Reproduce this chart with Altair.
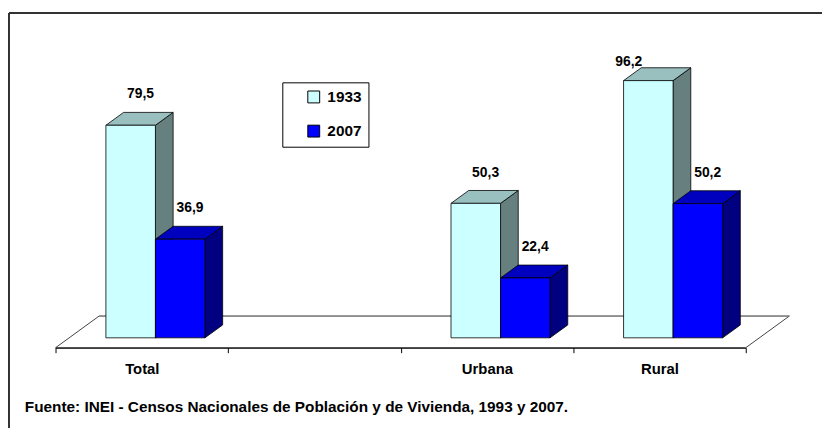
import altair as alt
import pandas as pd

# ---- data ----
categories = ["Total", "", "Urbana", "Rural"]
years = ["1933", "2007"]
values_1933 = [79.5, None, 50.3, 96.2]
values_2007 = [36.9, None, 22.4, 50.2]
source_note = "Fuente: INEI - Censos Nacionales de Población y de Vivienda, 1993 y 2007."

# ---- styles / geometry (not data) ----
FONT = "Liberation Sans, Arial, sans-serif"
front_colors = ["#CCFFFF", "#0000FF"]
top_colors = ["#99BFBF", "#0000BF"]
side_colors = ["#668080", "#000080"]
BAR_W = 0.287             # bar width in category-band units
Z0, Z1 = 0.3125, 0.71875  # bar depth range (0 = floor front, 1 = floor back)
DX = 0.2525               # horizontal shift per unit depth (band units)
DY = 11.85                # vertical shift per unit depth (value units)
LABEL_RISE = 11.5         # label centre above the bar top (value units)
LABEL_CEIL = 107.0        # labels are kept inside the chart area
LABEL_SHIFT = 0.057       # label shift to the right (band units)
CEIL_SHIFT = -0.17        # labels pushed down by the ceiling also move left
N = len(categories)
PLOT_W, PLOT_H = 821, 419
X_RANGE = [47, 744]
Y_RANGE = [338, 68]

xs = alt.Scale(domain=[0, N], range=X_RANGE, nice=False, zero=False)
ys = alt.Scale(domain=[0, 100], range=Y_RANGE, nice=False, zero=False)

front_rows, top_rows, side_rows, label_rows = [], [], [], []
for i, cat in enumerate(categories):
    for j, (yr, vals) in enumerate(zip(years, [values_1933, values_2007])):
        v = vals[i]
        if v is None:
            continue
        bar = f"{cat}-{yr}"
        u0 = i + 0.5 - BAR_W + j * BAR_W
        u1 = u0 + BAR_W
        front_rows.append(dict(bar=bar, year=yr, x=u0 + Z0 * DX, x2=u1 + Z0 * DX,
                               y=Z0 * DY, y2=v + Z0 * DY))
        for z in (Z0, Z1):
            top_rows.append(dict(bar=bar, year=yr, y=v + z * DY, x=u0 + z * DX, x2=u1 + z * DX))
            side_rows.append(dict(bar=bar, year=yr, x=u1 + z * DX, y=z * DY, y2=v + z * DY))
        ly = v + Z0 * DY + LABEL_RISE
        lx = (u0 + u1) / 2 + Z0 * DX + LABEL_SHIFT
        if ly > LABEL_CEIL:
            ly, lx = LABEL_CEIL, lx + CEIL_SHIFT
        label_rows.append(dict(bar=bar, x=lx, y=ly, label=f"{v:.1f}".replace(".", ",")))

front_df = pd.DataFrame(front_rows)
top_df = pd.DataFrame(top_rows)
side_df = pd.DataFrame(side_rows)
label_df = pd.DataFrame(label_rows)
floor_df = pd.DataFrame({"y": [0, DY], "x": [0, DX], "x2": [N, N + DX]})
back_df = floor_df.iloc[[1]]

label_list = "[" + ",".join("'" + c + "'" for c in categories + [""]) + "]"
band_px = (X_RANGE[1] - X_RANGE[0]) / N

AX = alt.Axis(values=list(range(N + 1)), labelExpr=label_list + "[datum.value]",
              labelOffset=band_px / 2, labelFlush=False, labelOverlap=False,
              labelBound=False, grid=False, offset=Y_RANGE[0] - PLOT_H,
              tickSize=5, tickColor="black", domainColor="black", domainWidth=1,
              labelFont=FONT, labelFontSize=15, labelFontWeight="bold",
              labelColor="black", labelPadding=9, labelBaseline="top", zindex=1,
              title=None)


def X(field="x:Q", **kw):
    return alt.X(field, scale=xs, axis=AX, title=None, **kw)


def Y(field="y:Q", **kw):
    return alt.Y(field, scale=ys, axis=None, title=None, **kw)


# chart frame: top and left edges only (the right/bottom ones lie off the page)
frame_top = alt.Chart().mark_rule(color="#333", strokeWidth=2).encode(
    x=alt.value(0), x2=alt.value(PLOT_W), y=alt.value(0))
frame_left = alt.Chart().mark_rule(color="#333", strokeWidth=2).encode(
    x=alt.value(0), y=alt.value(0), y2=alt.value(PLOT_H))

floor = alt.Chart(floor_df).mark_area(orient="horizontal", fill="white", stroke="#444",
                                      strokeWidth=1).encode(
    y=Y(), x=X(stack=None), x2="x2:Q",
)

back = alt.Chart(back_df).mark_rule(color="#888", strokeWidth=1).encode(
    x=X(), x2="x2:Q", y=Y(),
)

sides = alt.Chart(side_df).mark_area(orient="vertical", stroke="black", strokeWidth=0.8).encode(
    x=X(), y=Y(stack=None), y2="y2:Q", detail="bar:N",
    color=alt.Color("year:N", scale=alt.Scale(domain=years, range=side_colors), legend=None),
)

tops = alt.Chart(top_df).mark_area(orient="horizontal", stroke="black", strokeWidth=0.8).encode(
    y=Y(), x=X(stack=None), x2="x2:Q", detail="bar:N",
    color=alt.Color("year:N", scale=alt.Scale(domain=years, range=top_colors), legend=None),
)

fronts = alt.Chart(front_df).mark_rect(stroke="black", strokeWidth=0.8).encode(
    x=X(), x2="x2:Q", y=Y(), y2="y2:Q",
    color=alt.Color("year:N", scale=alt.Scale(domain=years, range=front_colors),
                    legend=alt.Legend(title=None, orient="none", legendX=276, legendY=70,
                                      direction="vertical", symbolType="square",
                                      symbolSize=144, symbolStrokeColor="black",
                                      symbolStrokeWidth=1, symbolOffset=17, labelOffset=6,
                                      labelFont=FONT, labelFontSize=15.5,
                                      labelFontWeight="bold", labelColor="black",
                                      padding=7, rowPadding=16.5, strokeColor="black",
                                      fillColor="white",
                                      labelExpr="datum.label + '\u00a0\u00a0\u00a0'")),
)

labels = alt.Chart(label_df).mark_text(font=FONT, fontSize=14, fontWeight="bold",
                                       color="black", baseline="middle").encode(
    x=X(), y=Y(), text="label:N",
)

chart = alt.layer(floor, back, sides, tops, fronts, labels, frame_top, frame_left).resolve_scale(
    color="independent"
).properties(
    width=PLOT_W, height=PLOT_H,
    background="white",
    autosize=alt.AutoSizeParams(type="none"),
    padding={"left": 1, "top": 3, "right": 0, "bottom": 0},
    title=alt.TitleParams(source_note, orient="bottom", anchor="start", frame="group",
                          offset=-17, dx=16, baseline="alphabetic", font=FONT,
                          fontSize=15.5, fontWeight="bold", color="black"),
).configure_view(strokeWidth=0)

chart.save("out.html", embed_options={"renderer": "svg", "actions": False})
